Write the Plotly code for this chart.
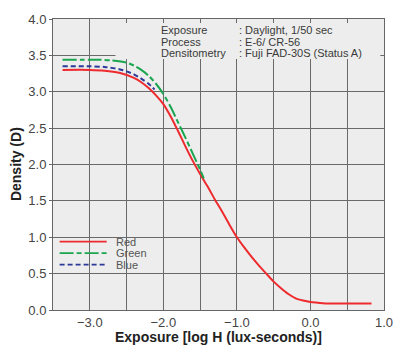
import plotly.graph_objects as go

# ---- data ----
red_x = [-3.37, -3.0, -2.8, -2.6, -2.4, -2.3, -2.2, -2.1, -2.0, -1.9, -1.8, -1.7, -1.6, -1.5, -1.4, -1.3, -1.2, -1.1, -1.0,
         -0.9, -0.8, -0.7, -0.6, -0.5, -0.4, -0.3, -0.2, -0.1, 0.0, 0.1, 0.2, 0.5, 0.83]
red_y = [3.30, 3.30, 3.29, 3.26, 3.19, 3.13, 3.05, 2.95, 2.83, 2.66, 2.46, 2.25, 2.05, 1.87, 1.70, 1.52, 1.35, 1.17, 1.00,
         0.86, 0.73, 0.61, 0.50, 0.39, 0.30, 0.22, 0.16, 0.13, 0.11, 0.10, 0.09, 0.09, 0.09]
green_x = [-3.37, -2.9, -2.7, -2.5, -2.4, -2.3, -2.2, -2.1, -2.0, -1.9, -1.8, -1.7, -1.6, -1.5, -1.45]
green_y = [3.44, 3.44, 3.43, 3.40, 3.36, 3.30, 3.22, 3.11, 2.97, 2.79, 2.58, 2.37, 2.15, 1.93, 1.81]
blue_x = [-3.37, -3.0, -2.8, -2.6, -2.5, -2.4, -2.3, -2.2, -2.12]
blue_y = [3.35, 3.35, 3.34, 3.31, 3.28, 3.24, 3.18, 3.11, 3.03]

x_tickvals = [-3.5, -3.0, -2.5, -2.0, -1.5, -1.0, -0.5, 0.0, 0.5, 1.0]
x_ticktext = ["", "\u22123.0", "", "\u22122.0", "", "\u22121.0", "", "0.0", "", "1.0"]
y_tickvals = [0.0, 0.5, 1.0, 1.5, 2.0, 2.5, 3.0, 3.5, 4.0]

info_labels = ["Exposure", "Process", "Densitometry"]
info_values = [": Daylight, 1/50 sec", ": E-6/ CR-56", ": Fuji FAD-30S (Status A)"]
info_rows_y = [3.842, 3.684, 3.526]

legend_names = ["Red", "Green", "Blue"]
legend_rows_y = [0.94, 0.782, 0.624]

RED = "#ee2a2e"
GREEN = "#1aa650"
BLUE = "#2b3a98"
BG = "#ecedec"
GRID = "#6a6a6a"
FONT = "Liberation Sans, Arial, sans-serif"

colors = [RED, GREEN, BLUE]
dashes = ["solid", "14px,3px,5px,3px", "5px,3px"]

fig = go.Figure()
for xs, ys, c, d in [(red_x, red_y, RED, dashes[0]), (green_x, green_y, GREEN, dashes[1]), (blue_x, blue_y, BLUE, dashes[2])]:
    fig.add_trace(go.Scatter(x=xs, y=ys, mode="lines",
                             line=dict(color=c, width=2, dash=d, shape="spline", smoothing=0.8),
                             showlegend=False, hoverinfo="skip"))

shapes = []
# background box behind info text
shapes.append(dict(type="rect", xref="x", yref="y", x0=-2.65, x1=0.95, y0=3.45, y1=3.945,
                   fillcolor=BG, line=dict(width=0), layer="above"))
# legend samples
for yy, c, d in zip(legend_rows_y, colors, dashes):
    shapes.append(dict(type="line", xref="x", yref="y", x0=-3.41, x1=-2.77, y0=yy, y1=yy,
                       line=dict(color=c, width=1.6, dash=d), layer="above"))

annotations = []
for lab, val, yy in zip(info_labels, info_values, info_rows_y):
    annotations.append(dict(x=-2.05, y=yy, xref="x", yref="y", text=lab, showarrow=False, borderpad=0,
                            xanchor="left", yanchor="middle", font=dict(size=11, color="#3a3a3a", family=FONT)))
    annotations.append(dict(x=-0.98, y=yy, xref="x", yref="y", text=val, showarrow=False, borderpad=0,
                            xanchor="left", yanchor="middle", font=dict(size=11, color="#3a3a3a", family=FONT)))
for name, yy in zip(legend_names, legend_rows_y):
    annotations.append(dict(x=-2.66, y=yy, xref="x", yref="y", text=name, showarrow=False, borderpad=0,
                            xanchor="left", yanchor="middle", font=dict(size=11, color="#555555", family=FONT)))
# axis titles
annotations.append(dict(x=0.5, y=-0.094, xref="paper", yref="paper", text="<b>Exposure [log H (lux-seconds)]</b>",
                        showarrow=False, xanchor="center", yanchor="middle",
                        font=dict(size=14, color="#222222", family=FONT)))
annotations.append(dict(x=-0.113, y=0.5, xref="paper", yref="paper", text="<b>Density (D)</b>", textangle=-90,
                        showarrow=False, xanchor="center", yanchor="middle",
                        font=dict(size=14, color="#222222", family=FONT)))

fig.update_layout(
    width=405, height=350,
    margin=dict(l=53, r=15, t=12, b=40),
    paper_bgcolor="white", plot_bgcolor=BG,
    shapes=shapes, annotations=annotations,
    font=dict(family=FONT, size=13, color="#444444"),
)
fig.update_xaxes(range=[-3.5, 1.0], tickvals=x_tickvals, ticktext=x_ticktext,
                 showgrid=True, gridcolor=GRID, gridwidth=1, zeroline=False,
                 showline=True, linecolor="#666666", linewidth=1, mirror=True,
                 ticks="", tickfont=dict(size=13, color="#444444"))
fig.update_yaxes(range=[0, 4.0], tickvals=y_tickvals, tickformat=".1f",
                 showgrid=True, gridcolor=GRID, gridwidth=1, zeroline=False,
                 showline=True, linecolor="#666666", linewidth=1, mirror=True,
                 ticks="outside", ticklen=3, tickcolor="#666666", tickfont=dict(size=13, color="#444444"))

fig.write_html("out.html")
